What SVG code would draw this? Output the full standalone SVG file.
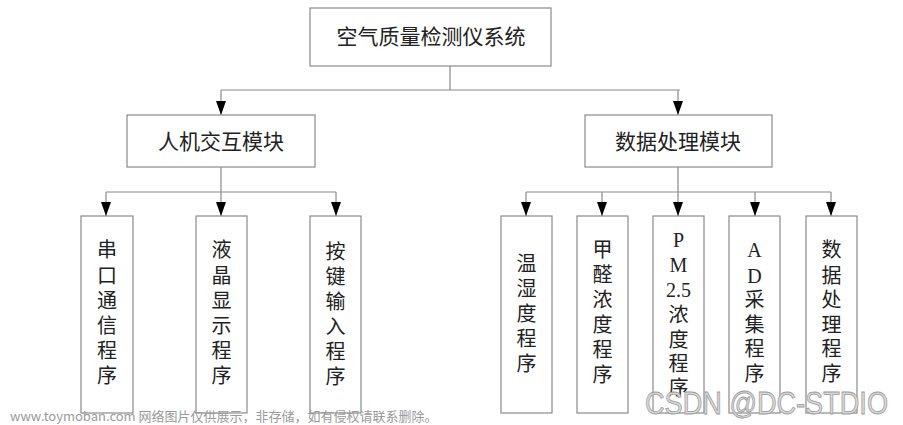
<svg xmlns="http://www.w3.org/2000/svg" width="903" height="425" viewBox="0 0 903 425">
<style>
.box{fill:#fff;stroke:#8a8a8a;stroke-width:1.2}
.ln{fill:none;stroke:#8a8a8a;stroke-width:1.2}
.t{font-family:"Liberation Serif","Noto Sans CJK SC",serif;font-size:21px;fill:#222;text-anchor:middle;dominant-baseline:central}
.v{font-family:"Liberation Serif","Noto Sans CJK SC",serif;font-size:20px;fill:#222;text-anchor:middle;dominant-baseline:central}
.wm{font-family:"Noto Sans CJK SC","Liberation Sans",sans-serif;font-size:13px;fill:#9a9a9a}
.wm2{font-family:"Liberation Sans","Noto Sans CJK SC",sans-serif;font-size:32px;fill:#d8d8d8;stroke:#9a9a9a;stroke-width:0.8}
</style>
<defs>
<marker id="ah" markerUnits="userSpaceOnUse" markerWidth="15" markerHeight="10" refX="14" refY="5" orient="auto" viewBox="0 0 15 10">
<path d="M0,0 L14,5 L0,10 Z" fill="#000"/>
</marker>
</defs>
<g id="connectors">
<path class="ln" d="M450,66 V90 M221,90 H680"/>
<path class="ln" d="M221,90 V115" marker-end="url(#ah)"/>
<path class="ln" d="M678,90 V115" marker-end="url(#ah)"/>
<path class="ln" d="M221,167 V192 M106,192 H336"/>
<path class="ln" d="M106,192 V216" marker-end="url(#ah)"/>
<path class="ln" d="M221,192 V216" marker-end="url(#ah)"/>
<path class="ln" d="M336,192 V216" marker-end="url(#ah)"/>
<path class="ln" d="M678,167 V192 M526,192 H831"/>
<path class="ln" d="M526,192 V216" marker-end="url(#ah)"/>
<path class="ln" d="M602,192 V216" marker-end="url(#ah)"/>
<path class="ln" d="M678,192 V216" marker-end="url(#ah)"/>
<path class="ln" d="M755,192 V216" marker-end="url(#ah)"/>
<path class="ln" d="M831,192 V216" marker-end="url(#ah)"/>
</g>
<g id="root"><rect class="box" x="310" y="8" width="241" height="58"/><text class="t" x="431" y="37">空气质量检测仪系统</text></g>
<g id="hmi"><rect class="box" x="127" y="115" width="188" height="52"/><text class="t" x="221" y="142">人机交互模块</text></g>
<g id="data"><rect class="box" x="585" y="115" width="187" height="52"/><text class="t" x="678" y="142">数据处理模块</text></g>
<g id="serial"><rect class="box" x="81" y="216" width="52" height="197"/>
<text class="v" x="107"><tspan x="107" y="250">串</tspan><tspan x="107" y="276">口</tspan><tspan x="107" y="301">通</tspan><tspan x="107" y="326">信</tspan><tspan x="107" y="351">程</tspan><tspan x="107" y="376">序</tspan></text></g>
<g id="lcd"><rect class="box" x="196" y="216" width="51" height="197"/>
<text class="v"><tspan x="221.5" y="250">液</tspan><tspan x="221.5" y="276">晶</tspan><tspan x="221.5" y="301">显</tspan><tspan x="221.5" y="326">示</tspan><tspan x="221.5" y="351">程</tspan><tspan x="221.5" y="376">序</tspan></text></g>
<g id="key"><rect class="box" x="310" y="216" width="51" height="197"/>
<text class="v"><tspan x="335.5" y="252">按</tspan><tspan x="335.5" y="277">键</tspan><tspan x="335.5" y="302">输</tspan><tspan x="335.5" y="327">入</tspan><tspan x="335.5" y="352">程</tspan><tspan x="335.5" y="377">序</tspan></text></g>
<g id="temp"><rect class="box" x="501" y="216" width="51" height="197"/>
<text class="v"><tspan x="526.5" y="264">温</tspan><tspan x="526.5" y="289">湿</tspan><tspan x="526.5" y="314">度</tspan><tspan x="526.5" y="339">程</tspan><tspan x="526.5" y="364">序</tspan></text></g>
<g id="hcho"><rect class="box" x="577" y="216" width="51" height="197"/>
<text class="v"><tspan x="602.5" y="250">甲</tspan><tspan x="602.5" y="275">醛</tspan><tspan x="602.5" y="300">浓</tspan><tspan x="602.5" y="325">度</tspan><tspan x="602.5" y="350">程</tspan><tspan x="602.5" y="375">序</tspan></text></g>
<g id="pm"><rect class="box" x="653" y="216" width="51" height="197"/>
<text class="v"><tspan x="678.5" y="240">P</tspan><tspan x="678.5" y="265">M</tspan><tspan x="678.5" y="290">2.5</tspan><tspan x="678.5" y="315">浓</tspan><tspan x="678.5" y="340">度</tspan><tspan x="678.5" y="364">程</tspan><tspan x="678.5" y="388">序</tspan></text></g>
<g id="ad"><rect class="box" x="729" y="216" width="51" height="197"/>
<text class="v"><tspan x="754.5" y="250">A</tspan><tspan x="754.5" y="276">D</tspan><tspan x="754.5" y="300">采</tspan><tspan x="754.5" y="325">集</tspan><tspan x="754.5" y="349">程</tspan><tspan x="754.5" y="374">序</tspan></text></g>
<g id="proc"><rect class="box" x="806" y="216" width="51" height="197"/>
<text class="v"><tspan x="831.5" y="250">数</tspan><tspan x="831.5" y="276">据</tspan><tspan x="831.5" y="300">处</tspan><tspan x="831.5" y="325">理</tspan><tspan x="831.5" y="349">程</tspan><tspan x="831.5" y="374">序</tspan></text></g>
<g id="watermarks">
<text class="wm" x="10" y="421">www.toymoban.com 网络图片仅供展示，非存储，如有侵权请联系删除。</text>
<text class="wm2" x="645" y="414" textLength="243" lengthAdjust="spacingAndGlyphs">CSDN @DC-STDIO</text>
</g>
</svg>
